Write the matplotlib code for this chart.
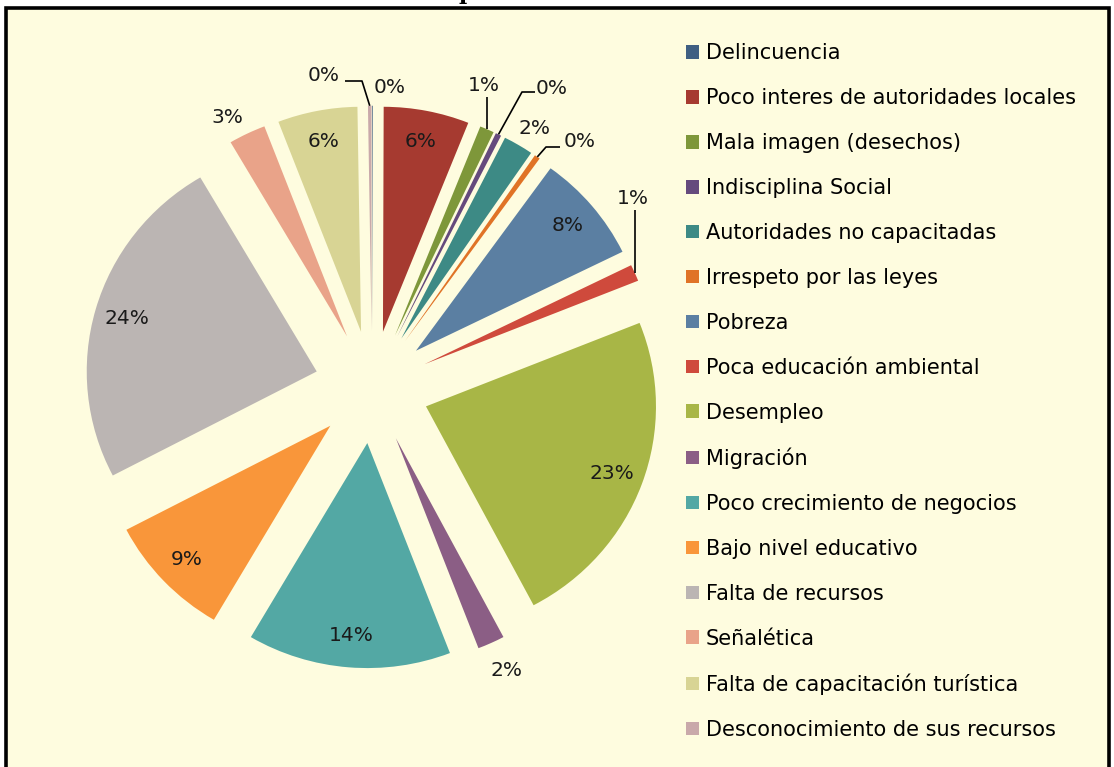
import matplotlib
matplotlib.use("Agg")
import matplotlib.pyplot as plt
import numpy as np
from matplotlib.patches import Rectangle

# ---------------- data ----------------
categories = [
    "Delincuencia",
    "Poco interes de autoridades locales",
    "Mala imagen (desechos)",
    "Indisciplina Social",
    "Autoridades no capacitadas",
    "Irrespeto por las leyes",
    "Pobreza",
    "Poca educación ambiental",
    "Desempleo",
    "Migración",
    "Poco crecimiento de negocios",
    "Bajo nivel educativo",
    "Falta de recursos",
    "Señalética",
    "Falta de capacitación turística",
    "Desconocimiento de sus recursos",
]
values = [0.05, 6.0, 1.0, 0.4, 2.1, 0.4, 7.8, 1.2, 23.3, 1.9, 14.3, 8.9, 24.2, 2.6, 5.6, 0.25]
colors = [
    "#3F5F82", "#A63A30", "#7E973A", "#654A7D", "#3D8A85", "#E07326",
    "#5B7FA2", "#CF4A3C", "#A8B646", "#8B5E85", "#53A8A4", "#F9963A",
    "#BBB5B3", "#E9A389", "#D8D494", "#C9A9AA",
]
pct_labels = [f"{v:.0f}%" for v in values]

# ---------------- layout ----------------
W, H = 1114, 767
fig = plt.figure(figsize=(W / 100, H / 100), dpi=100)
fig.patch.set_facecolor("white")

# chart area (cream with black border)
bg = Rectangle((6 / W, -0.05), 1103 / W, 1.05 - 8 / H,
               transform=fig.transFigure, facecolor="#FEFCDF",
               edgecolor="black", linewidth=2.6, zorder=-5)
fig.patches.append(bg)
# cut-off title descender
fig.text(466 / W, 1 + 1.5 / H, "p", ha="center", va="baseline",
         family="DejaVu Serif", fontsize=16, fontweight="bold")

cx_px, cy_px = 372, 387      # pie centre in pixels
sx, sy = 230, 225            # pixels per data unit
ax_l, ax_r, ax_t, ax_b = 72, 672, 62, 712
ax = fig.add_axes([ax_l / W, (H - ax_b) / H, (ax_r - ax_l) / W, (ax_b - ax_t) / H])
ax.set_facecolor("none")
ax.set_zorder(1)

explode = [0.25] * len(values)
wedges, _ = ax.pie(values, colors=colors, startangle=90, counterclock=False,
                   explode=explode, radius=1.0, wedgeprops=dict(linewidth=0))
ax.set_aspect("auto")
ax.set_xlim(-(cx_px - ax_l) / sx, (ax_r - cx_px) / sx)
ax.set_ylim(-(ax_b - cy_px) / sy, (cy_px - ax_t) / sy)
ax.axis("off")

def px2d(px, py):
    return ((px - cx_px) / sx, (cy_px - py) / sy)

label_fs = 14.5
inside = [i for i, v in enumerate(values) if v >= 5]
for i in inside:
    w = wedges[i]
    mid = np.deg2rad((w.theta1 + w.theta2) / 2)
    x = w.center[0] + 0.86 * np.cos(mid)
    y = w.center[1] + 0.86 * np.sin(mid)
    ax.text(x, y, pct_labels[i], ha="center", va="center", fontsize=label_fs,
            color="#1a1a1a")

# outside label positions (pixels) and leader paths
outside_pos = {
    0: (390, 87), 2: (484, 85), 3: (552, 88), 4: (535, 128), 5: (580, 141),
    7: (633, 198), 9: (507, 671), 13: (227, 117), 15: (324, 75),
}
leaders = {
    2: "v", 7: "v",
    3: [(535, 92), (522, 92)],
    5: [(560, 147), (546, 147)],
    15: [(345, 81), (362, 81)],
}
for i, (px, py) in outside_pos.items():
    x, y = px2d(px, py)
    ax.text(x, y, pct_labels[i], ha="center", va="center", fontsize=label_fs,
            color="#1a1a1a")
    if i in leaders:
        w = wedges[i]
        mid = np.deg2rad((w.theta1 + w.theta2) / 2)
        tx = w.center[0] + np.cos(mid)
        ty = w.center[1] + np.sin(mid)
        if leaders[i] == "v":
            pts = [(tx, y - 12 / sy), (tx, ty)]
        else:
            pts = [px2d(*p) for p in leaders[i]] + [(tx, ty)]
        xs, ys = zip(*pts)
        ax.plot(xs, ys, color="black", linewidth=1.2, solid_capstyle="butt")

leg = fig.legend(wedges, categories, loc="upper left",
                 bbox_to_anchor=(676 / W, 1 - 33 / H), frameon=False,
                 fontsize=15, handlelength=0.62, handleheight=0.62,
                 handletextpad=0.3, labelspacing=1.195, borderpad=0)

fig.savefig("out.png", dpi=100, facecolor="white")
